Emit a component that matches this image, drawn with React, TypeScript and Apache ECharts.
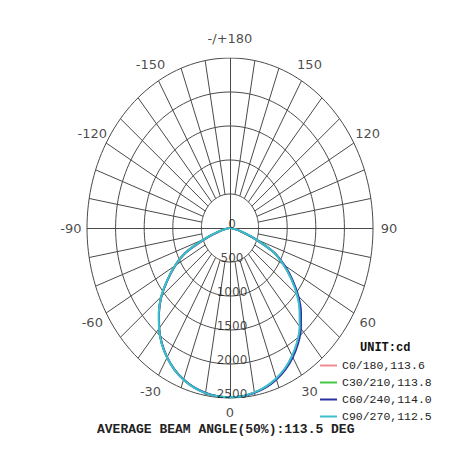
import { useEffect, useRef } from 'react';
import * as echarts from 'echarts';

// gamma angles (deg from nadir), same for both halves of every C-plane
const gammaAngles = [0, 5, 10, 15, 20, 25, 30, 35, 40, 45, 50, 55, 60, 65, 70, 75, 80, 85, 90];

// intensity in cd
const c0 = [2490, 2483, 2457, 2418, 2360, 2282, 2176, 2052, 1902, 1728, 1538, 1312, 1080, 835, 420, 180, 60, 15, 0];
const c180 = [2490, 2484, 2463, 2428, 2372, 2297, 2196, 2075, 1925, 1755, 1565, 1335, 1100, 850, 420, 180, 60, 15, 0];
const c30 = [2490, 2483, 2458, 2420, 2362, 2285, 2180, 2058, 1908, 1735, 1545, 1318, 1088, 840, 465, 212, 76, 20, 0];
const c210 = [2490, 2485, 2464, 2429, 2374, 2299, 2199, 2079, 1929, 1759, 1568, 1338, 1108, 858, 478, 218, 79, 20, 0];
const c60 = [2490, 2485, 2462, 2428, 2372, 2296, 2195, 2075, 1928, 1755, 1560, 1335, 1100, 850, 475, 215, 78, 20, 0];
const c240 = [2490, 2484, 2463, 2428, 2372, 2297, 2197, 2076, 1926, 1755, 1565, 1335, 1105, 855, 475, 215, 78, 20, 0];
const c90 = [2490, 2482, 2455, 2415, 2355, 2275, 2170, 2045, 1895, 1720, 1530, 1305, 1075, 830, 460, 210, 75, 20, 0];
const c270 = [2490, 2485, 2465, 2430, 2375, 2300, 2200, 2080, 1930, 1760, 1570, 1340, 1110, 860, 480, 220, 80, 20, 0];

const planeNames = ['C0/180,113.6', 'C30/210,113.8', 'C60/240,114.0', 'C90/270,112.5'];
const planeColors = ['#f08a92', '#44c944', '#2b2fa0', '#3cbfcf'];
const planeRight = [c0, c30, c60, c90];
const planeLeft = [c180, c210, c240, c270];

const ringValues = [500, 1000, 1500, 2000, 2500];
const ringLabels = ['0', '500', '1000', '1500', '2000', '2500'];
const angleLabelValues = [0, 30, 60, 90, 120, 150, 180, -150, -120, -90, -60, -30];
const angleLabelTexts = ['0', '30', '60', '90', '120', '150', '-/+180', '-150', '-120', '-90', '-60', '-30'];

const MAX_R = 2500;
const LABEL_R = 2780;

const rad = (deg: number) => (deg * Math.PI) / 180;
// gamma 0 points down, positive angles to the right
const toXY = (r: number, deg: number) => [r * Math.sin(rad(deg)), -r * Math.cos(rad(deg))];

export default function App() {
  const chartRef = useRef<HTMLDivElement>(null);

  useEffect(() => {
    if (!chartRef.current) return;
    const chart = echarts.init(chartRef.current, null, { renderer: 'svg' });

    const ringLines = ringValues.map(r => {
      const coords: number[][] = [];
      for (let a = 0; a <= 360; a += 2) coords.push(toXY(r, a));
      return { coords };
    });

    const spokes: { coords: number[][] }[] = [];
    for (let a = 0; a < 360; a += 10) {
      const inner = a % 90 === 0 ? 0 : ringValues[0];
      spokes.push({ coords: [toXY(inner, a), toXY(MAX_R, a)] });
    }

    const curveSeries = planeNames.map((name, i) => {
      const pts: number[][] = [];
      for (let k = gammaAngles.length - 1; k >= 0; k--) pts.push(toXY(planeLeft[i][k], -gammaAngles[k]));
      for (let k = 1; k < gammaAngles.length; k++) pts.push(toXY(planeRight[i][k], gammaAngles[k]));
      return {
        name,
        type: 'line',
        data: pts,
        symbol: 'none',
        smooth: 0.3,
        lineStyle: { color: planeColors[i], width: 2 },
        itemStyle: { color: planeColors[i] },
        z: 5 + i,
        silent: true,
      };
    });

    const labelFont = {
      fontFamily: 'DejaVu Sans',
      fontSize: 12,
      color: '#1a1a1a',
    };

    const option = {
      animation: false,
      backgroundColor: '#fff',
      grid: { left: 87, top: 58, width: 286, height: 340 },
      xAxis: { type: 'value', min: -MAX_R, max: MAX_R, show: false },
      yAxis: { type: 'value', min: -MAX_R, max: MAX_R, show: false },
      legend: {
        data: planeNames.map(n => ({ name: n, icon: 'rect' })),
        orient: 'vertical',
        left: 320,
        top: 359,
        padding: 0,
        itemWidth: 17,
        itemHeight: 2,
        itemGap: 4,
        selectedMode: false,
        textStyle: {
          fontFamily: 'Liberation Mono',
          fontSize: 11.5,
          color: '#222',
          lineHeight: 13,
        },
      },
      graphic: [
        {
          type: 'text',
          x: 360,
          y: 348,
          style: {
            text: 'UNIT:cd',
            font: 'bold 12px "Liberation Mono"',
            fill: '#111',
            textVerticalAlign: 'middle',
          },
        },
        {
          type: 'text',
          x: 97,
          y: 429,
          style: {
            text: 'AVERAGE BEAM ANGLE(50%):113.5 DEG',
            font: 'bold 13px "Liberation Mono"',
            fill: '#222',
            textVerticalAlign: 'middle',
          },
        },
      ],
      series: [
        {
          type: 'lines',
          coordinateSystem: 'cartesian2d',
          polyline: true,
          silent: true,
          data: ringLines,
          lineStyle: { color: '#4a4a4a', width: 1, opacity: 1 },
          z: 1,
        },
        {
          type: 'lines',
          coordinateSystem: 'cartesian2d',
          silent: true,
          data: spokes,
          lineStyle: { color: '#4a4a4a', width: 1, opacity: 1 },
          z: 1,
        },
        ...curveSeries,
        {
          type: 'scatter',
          silent: true,
          clip: false,
          symbolSize: 0,
          data: ringLabels.map((t, i) => ({ name: t, value: toXY(i * 500, 0) })),
          label: {
            show: true,
            position: 'inside',
            formatter: '{b}',
            offset: [2, -4],
            ...labelFont,
          },
          z: 10,
        },
        {
          type: 'scatter',
          silent: true,
          clip: false,
          symbolSize: 0,
          data: angleLabelValues.map((a, i) => ({
            name: angleLabelTexts[i],
            value: toXY(LABEL_R, a),
            // bottom label sits a little tighter to the ring
            label: a === 0 ? { offset: [0, -5] } : undefined,
          })),
          label: {
            show: true,
            position: 'inside',
            formatter: '{b}',
            ...labelFont,
            fontSize: 13,
          },
          z: 10,
        },
      ],
    };

    chart.setOption(option as echarts.EChartsOption);

    return () => {
      chart.dispose();
    };
  }, []);

  return (
    <div
      ref={chartRef}
      style={{ position: 'absolute', left: 0, top: 0, width: 461, height: 457 }}
    />
  );
}
